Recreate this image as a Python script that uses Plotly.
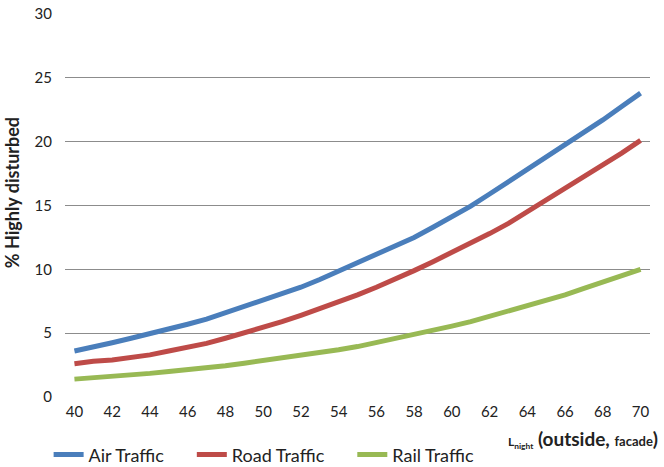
import plotly.graph_objects as go

# L_night (outside, facade) in dB
lnight = list(range(40, 71))

# % highly disturbed
air_traffic = [3.6, 3.9, 4.25, 4.6, 4.95, 5.35, 5.7, 6.1, 6.6, 7.05, 7.55, 8.05, 8.6, 9.2, 9.85, 10.45,
               11.1, 11.8, 12.5, 13.3, 14.1, 14.95, 15.9, 16.85, 17.8, 18.75, 19.7, 20.7, 21.7, 22.75, 23.8]
road_traffic = [2.6, 2.8, 2.9, 3.1, 3.3, 3.6, 3.9, 4.2, 4.6, 5.0, 5.4, 5.9, 6.4, 6.9, 7.4, 8.0,
                8.6, 9.2, 9.9, 10.6, 11.3, 12.0, 12.8, 13.6, 14.5, 15.4, 16.3, 17.2, 18.1, 19.1, 20.1]
rail_traffic = [1.4, 1.5, 1.6, 1.7, 1.85, 2.0, 2.15, 2.25, 2.45, 2.65, 2.85, 3.05, 3.25, 3.45, 3.7, 3.95,
                4.25, 4.55, 4.85, 5.2, 5.55, 5.9, 6.3, 6.7, 7.1, 7.6, 8.0, 8.5, 9.0, 9.5, 10.0]

x_ticks = list(range(40, 71, 2))
y_ticks = [0, 5, 10, 15, 20, 25, 30]

font_name = "Lato"
text_col = "#222222"
pad = "\u00a0" * 5  # extra room between legend entries

fig = go.Figure()
fig.add_trace(go.Scatter(x=lnight, y=air_traffic, mode="lines", name="Air Traffic" + pad,
                         line=dict(color="#4a7ebb", width=5)))
fig.add_trace(go.Scatter(x=lnight, y=road_traffic, mode="lines", name="Road Traffic" + pad,
                         line=dict(color="#be4b48", width=5)))
fig.add_trace(go.Scatter(x=lnight, y=rail_traffic, mode="lines", name="Rail Traffic",
                         line=dict(color="#98b954", width=5)))

fig.update_layout(
    width=664, height=467,
    margin=dict(l=65, r=14, t=14, b=70, autoexpand=False),
    paper_bgcolor="white",
    plot_bgcolor="white",
    font=dict(family=font_name, size=15, color=text_col),
    xaxis=dict(
        range=[39.5, 70.5],
        tickmode="array",
        tickvals=x_ticks,
        showgrid=False,
        zeroline=False,
        showline=False,
        ticks="",
        automargin=False,
        ticklabelstandoff=4,
    ),
    yaxis=dict(
        range=[0, 30],
        tickvals=y_ticks,
        showgrid=True,
        gridcolor="#8c8c8c",
        gridwidth=1,
        zeroline=False,
        showline=False,
        ticks="",
        automargin=False,
        ticklabelstandoff=12,
    ),
    legend=dict(
        orientation="h",
        x=-0.028, xanchor="left",
        y=-0.151, yanchor="middle",
        font=dict(size=18),
        itemwidth=30,
    ),
)

# y-axis title
fig.add_annotation(
    xref="paper", yref="paper", x=-0.09, y=0.533, xanchor="center", yanchor="middle",
    showarrow=False, textangle=-90,
    text="<b>% Highly disturbed</b>",
    font=dict(size=18, family=font_name, color=text_col),
)

# x-axis title
fig.add_annotation(
    xref="paper", yref="paper", x=1.017, y=-0.11, xanchor="right", yanchor="middle",
    showarrow=False,
    text="<b><span style='font-size:12px'>L<sub>night</sub></span> (outside, "
         "<span style='font-size:13px'>facade</span>)</b>",
    font=dict(size=19, family=font_name, color=text_col),
)

fig.write_html("out.html", config={"displayModeBar": False},
               post_script="document.body.style.margin='0';")
